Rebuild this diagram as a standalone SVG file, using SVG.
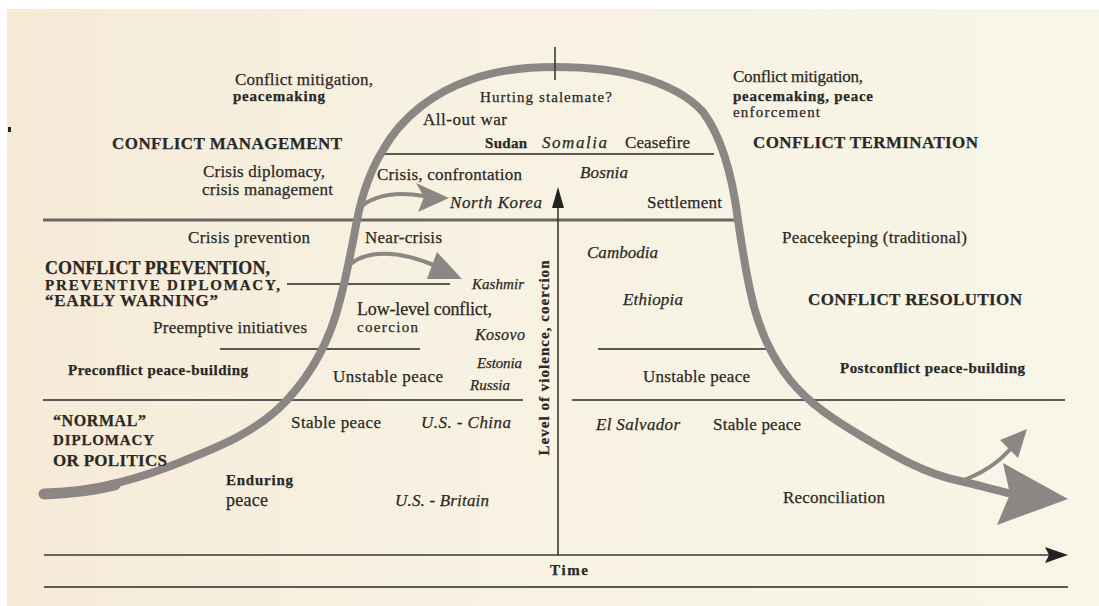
<svg xmlns="http://www.w3.org/2000/svg" width="1099" height="606" viewBox="0 0 1099 606">
<defs>
<linearGradient id="bg" x1="0" y1="0" x2="1" y2="0">
<stop offset="0" stop-color="#f6ead7"/>
<stop offset="0.35" stop-color="#f7f1e1"/>
<stop offset="1" stop-color="#f8f6e8"/>
</linearGradient>
<style>
text{font-family:"Liberation Serif","Times New Roman",serif;fill:#2b2826;stroke:#2b2826;stroke-width:0.25}
.r{font-size:17px}
.r15{font-size:15px}
.s{font-size:15px;font-weight:bold}
.i{font-style:italic;font-size:17px}
.i15{font-style:italic;font-size:15px}
.h{font-size:17px;font-weight:bold}
.h18{font-size:18px;font-weight:bold}
.rule{stroke:#5b5855;stroke-width:2;fill:none}
.rule3{stroke:#6a6662;stroke-width:3;fill:none}
.curve{stroke:#8c8784;fill:none;stroke-linecap:round}
.head{fill:#8c8784}
.axis{stroke:#3a3836;stroke-width:1.6;fill:none}
</style>
</defs>
<rect x="0" y="0" width="1099" height="606" fill="#ffffff"/>
<rect x="7" y="9" width="1092" height="597" fill="url(#bg)"/>
<rect x="8" y="127" width="3" height="5" fill="#222"/>

<g id="rules">
<line class="rule" x1="382" y1="154" x2="714" y2="154"/>
<line class="rule3" x1="43" y1="220" x2="740" y2="220"/>
<line class="rule" x1="287" y1="284" x2="450" y2="284"/>
<line class="rule" x1="220" y1="349" x2="420" y2="349"/>
<line class="rule" x1="598" y1="349" x2="768" y2="349"/>
<line class="rule" x1="43" y1="400" x2="523" y2="400"/>
<line class="rule" x1="572" y1="400" x2="1065" y2="400"/>
<line class="rule" x1="44" y1="587" x2="1068" y2="587"/>
</g>

<g id="connectors">
<path class="curve" stroke-width="8" d="M44,494 C87,492 128,482 168,467 C211,450 256,434 287,400 C313,372 331,337 340,300 C347,274 352,247 357,220 C362,195 370,171 383,150 C402,116 435,92 470,80 C497,70 526,67 555,67 C583.5,67 613,69 640,77 C664,84 688,95 703,112 C724,140 733,181 738,220 C741.5,244 745,266.5 750,290 C756.5,322 769,354 790,380 C809,404 836,421 863,437 C893,455 925,474 960,481 C975,484 990,489 1008,493"/>
<path class="curve" stroke-width="11" d="M44,494 C70,493 95,490 115,485"/>
<polygon class="head" points="1003,463 1068,499 997,525 1010,494"/>
<path class="curve" stroke-width="4" d="M958,482 Q992,471 1012,447"/>
<polygon class="head" points="1000,440 1027,429 1018,458"/>
<path class="curve" stroke-width="4" d="M358,209 C372,196 395,191 424,196"/>
<polygon class="head" points="416,183 449,198 418,212 424,197"/>
<path class="curve" stroke-width="4" d="M352,263 C366,252 396,248 438,267"/>
<polygon class="head" points="437,252 462,279 427,279"/>
<line class="axis" x1="555" y1="47" x2="555" y2="80" stroke-width="2"/>
<line class="axis" x1="558" y1="555" x2="558" y2="205"/>
<polygon points="558,187 564,208 552,208" fill="#222"/>
<line class="axis" x1="44" y1="555" x2="1050" y2="555"/>
<polygon points="1068,555 1045,547 1049,555 1045,563" fill="#222"/>
</g>

<g id="conflict-management">
<text class="r" x="235" y="85" textLength="138">Conflict mitigation,</text>
<text class="s" x="233" y="101" textLength="92">peacemaking</text>
<text class="h" x="112" y="149" textLength="230">CONFLICT MANAGEMENT</text>
<text class="r" x="203" y="177" textLength="122">Crisis diplomacy,</text>
<text class="r" x="202" y="195" textLength="131">crisis management</text>
</g>
<g id="war-zone">
<text class="r15" x="480" y="102" textLength="132">Hurting stalemate?</text>
<text class="r" x="423" y="125" textLength="84">All-out war</text>
<text class="s" x="485" y="148" textLength="42">Sudan</text>
<text class="i" x="542" y="148" textLength="65">Somalia</text>
<text class="r" x="625" y="148" textLength="65">Ceasefire</text>
</g>
<g id="crisis-zone">
<text class="r" x="377" y="180" textLength="145">Crisis, confrontation</text>
<text class="i" x="580" y="178" textLength="48">Bosnia</text>
<text class="i" x="450" y="208" textLength="92">North Korea</text>
<text class="r" x="647" y="208" textLength="75">Settlement</text>
</g>
<g id="conflict-termination">
<text class="r" x="733" y="82" textLength="130">Conflict mitigation,</text>
<text class="s" x="733" y="101" textLength="140">peacemaking, peace</text>
<text class="r15" x="733" y="117" textLength="87">enforcement</text>
<text class="h" x="753" y="148" textLength="225">CONFLICT TERMINATION</text>
</g>
<g id="conflict-prevention">
<text class="r" x="188" y="243" textLength="122">Crisis prevention</text>
<text class="h18" x="45" y="274" textLength="225">CONFLICT PREVENTION,</text>
<text class="s" x="45" y="290" textLength="235">PREVENTIVE DIPLOMACY,</text>
<text class="h" x="45" y="306" textLength="173">“EARLY WARNING”</text>
<text class="r" x="153" y="333" textLength="154">Preemptive initiatives</text>
<text class="s" x="68" y="375" textLength="180">Preconflict peace-building</text>
</g>
<g id="near-crisis-zone">
<text class="r" x="365" y="243" textLength="77">Near-crisis</text>
<text class="i15" x="472" y="289" textLength="52">Kashmir</text>
<text class="i" x="587" y="258" textLength="71">Cambodia</text>
<text class="i" x="623" y="305" textLength="60">Ethiopia</text>
<text class="r" x="357" y="315" textLength="135" style="font-size:18px">Low-level conflict,</text>
<text class="r15" x="357" y="332" textLength="61">coercion</text>
<text class="i" x="475" y="340" textLength="50" style="font-size:16px">Kosovo</text>
</g>
<g id="conflict-resolution">
<text class="r" x="782" y="243" textLength="185">Peacekeeping (traditional)</text>
<text class="h" x="808" y="305" textLength="214">CONFLICT RESOLUTION</text>
<text class="s" x="840" y="373" textLength="185">Postconflict peace-building</text>
</g>
<g id="unstable-peace">
<text class="r" x="333" y="382" textLength="110">Unstable peace</text>
<text class="i15" x="477" y="368" textLength="45">Estonia</text>
<text class="i15" x="470" y="390" textLength="40">Russia</text>
<text class="r" x="643" y="382" textLength="107">Unstable peace</text>
</g>
<g id="stable-peace">
<text class="s" x="53" y="426" textLength="93" style="font-size:16px">“NORMAL”</text>
<text class="s" x="53" y="445" textLength="101">DIPLOMACY</text>
<text class="h" x="53" y="466" textLength="114">OR POLITICS</text>
<text class="r" x="291" y="428" textLength="90">Stable peace</text>
<text class="i" x="421" y="428" textLength="90">U.S. - China</text>
<text class="i" x="596" y="430" textLength="84">El Salvador</text>
<text class="r" x="713" y="430" textLength="88">Stable peace</text>
</g>
<g id="enduring-peace">
<text class="s" x="226" y="485" textLength="67">Enduring</text>
<text class="r" x="226" y="506" textLength="42" style="font-size:18px">peace</text>
<text class="i" x="395" y="506" textLength="94">U.S. - Britain</text>
<text class="r" x="783" y="503" textLength="102">Reconciliation</text>
</g>
<g id="axis-labels">
<text class="s" x="550" y="575" textLength="38">Time</text>
<text class="s" transform="translate(549,358) rotate(-90)" x="0" y="0" text-anchor="middle" textLength="195">Level of violence, coercion</text>
</g>
</svg>
